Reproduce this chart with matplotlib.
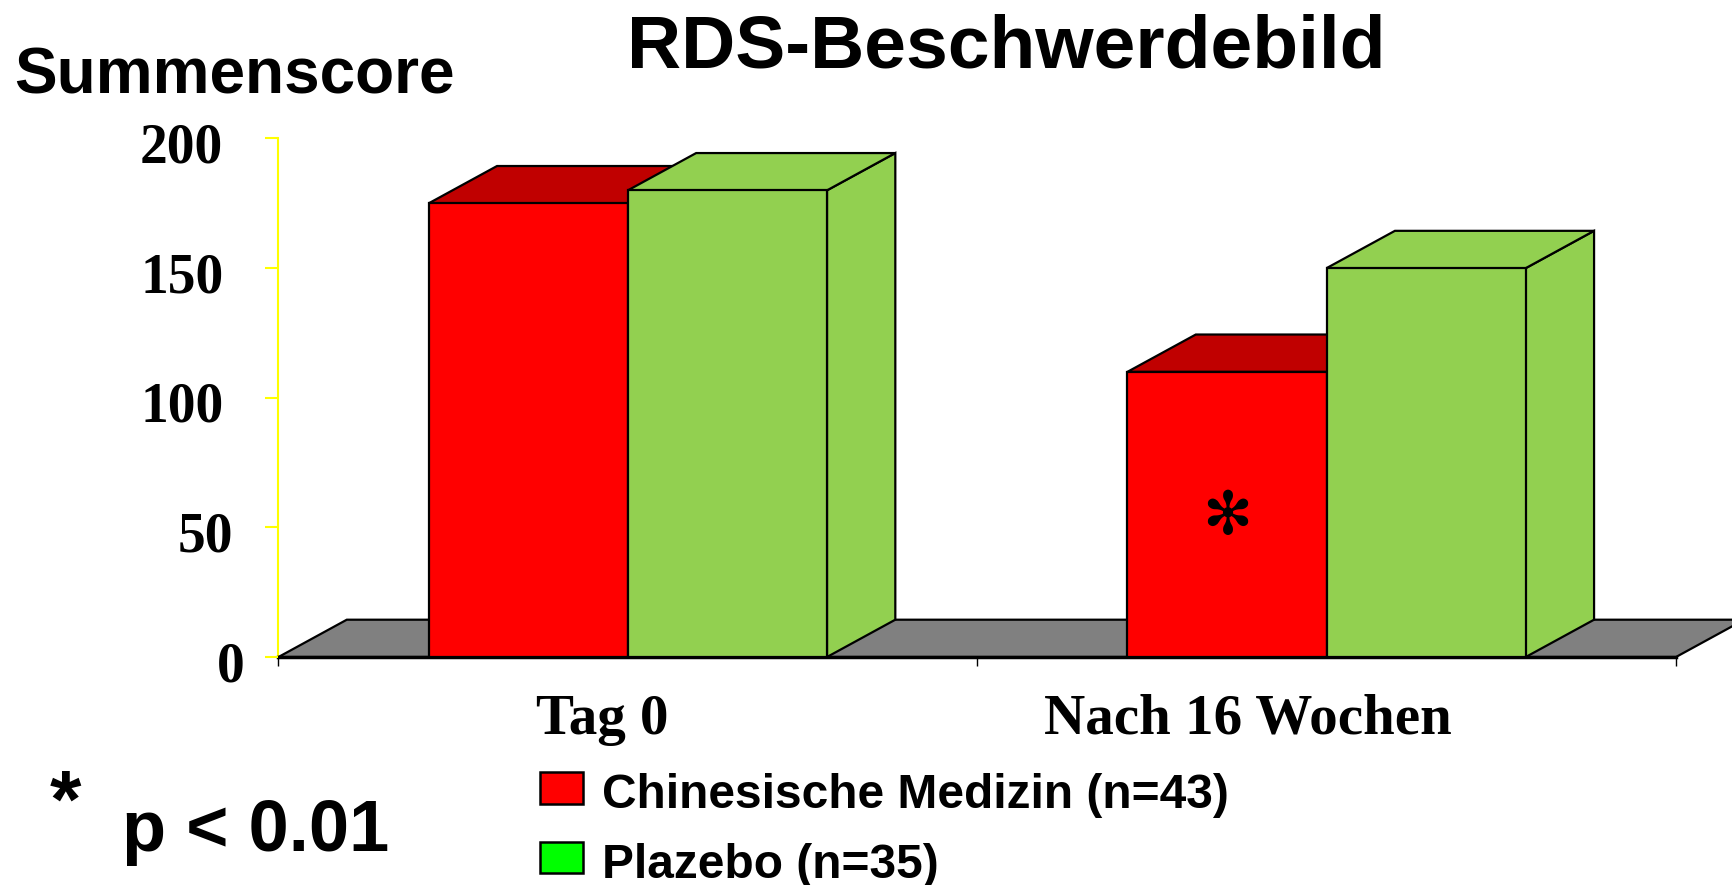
import matplotlib
matplotlib.use("Agg")
import matplotlib.pyplot as plt
from matplotlib.patches import Rectangle, Polygon
from matplotlib.transforms import ScaledTranslation

# ---------------- data ----------------
categories = ["Tag 0", "Nach 16 Wochen"]
series_names = ["Chinesische Medizin (n=43)", "Plazebo (n=35)"]
chinesische = [175, 110]
plazebo = [180, 150]
y_ticks = [0, 50, 100, 150, 200]
title = "RDS-Beschwerdebild"
y_title = "Summenscore"
sig_marker = "*"
sig_text = "p < 0.01"

# ---------------- style ----------------
W, H = 1733, 885
front_cols = ["#FF0000", "#92D050"]
top_cols = ["#C00000", "#92D050"]
side_cols = ["#A00000", "#92D050"]
legend_cols = ["#FF0000", "#00FF00"]
SANS = "Liberation Sans"
SERIF = "Liberation Serif"

fig = plt.figure(figsize=(W / 100, H / 100), dpi=100)
fig.patch.set_facecolor("white")

def fx(px):
    return px / W

def fy(py):
    return 1 - py / H

ax_l, ax_r, ax_t, ax_b = 278.5, 1676.0, 138.5, 657.0
ax = fig.add_axes([fx(ax_l), fy(ax_b), fx(ax_r - ax_l), (ax_b - ax_t) / H])
ax.set_xlim(0, len(categories))
ax.set_ylim(0, 200)
ax.set_facecolor("none")

# depth of 3D effect in data units
DX = 68.3 / ((ax_r - ax_l) / len(categories))
DY = 37.3 / ((ax_b - ax_t) / 200)

# floor
ncat = len(categories)
floor = Polygon([(0, 0), (ncat, 0), (ncat + DX, DY), (DX, DY)], closed=True,
                facecolor="#808080", edgecolor="black", lw=1.6, clip_on=False, zorder=1)
ax.add_patch(floor)

group_w = 0.57
bw = group_w / 2
values = [chinesische, plazebo]
z = 2
for i in range(ncat):
    for j, vals in enumerate(values):
        v = vals[i]
        x0 = i + 0.5 - group_w / 2 + j * bw
        front = Rectangle((x0, 0), bw, v, facecolor=front_cols[j], edgecolor="black",
                          lw=1.6, clip_on=False, zorder=z)
        top = Polygon([(x0, v), (x0 + bw, v), (x0 + bw + DX, v + DY), (x0 + DX, v + DY)],
                      closed=True, facecolor=top_cols[j], edgecolor="black", lw=1.6,
                      clip_on=False, zorder=z)
        side = Polygon([(x0 + bw, 0), (x0 + bw + DX, DY), (x0 + bw + DX, v + DY), (x0 + bw, v)],
                       closed=True, facecolor=side_cols[j], edgecolor="black", lw=1.6,
                       clip_on=False, zorder=z)
        ax.add_patch(side)
        ax.add_patch(top)
        ax.add_patch(front)
        z += 1

# significance marker on bar
ax.text(1 + 0.5 - group_w / 2 + bw / 2, 54, "\u273B", ha="center", va="center",
        fontsize=43, family="DejaVu Sans", color="black", zorder=20)

# spines / axes
for s in ["top", "right"]:
    ax.spines[s].set_visible(False)
ax.spines["left"].set_color("#FFFF00")
ax.spines["left"].set_linewidth(1.5)
ax.spines["left"].set_zorder(0.5)
ax.spines["bottom"].set_color("black")
ax.spines["bottom"].set_linewidth(2.5)
ax.spines["bottom"].set_zorder(1.5)

ax.set_yticks(y_ticks)
ax.set_yticklabels([str(t) for t in y_ticks])
ax.tick_params(axis="y", colors="#FFFF00", length=9.7, width=1.5, pad=30,
               labelcolor="black")
for lab in ax.get_yticklabels():
    lab.set_fontfamily(SERIF)
    lab.set_fontweight("bold")
    lab.set_fontsize(40)
shifts_px = {0: 21, 50: 10}
for t, lab in zip(y_ticks, ax.get_yticklabels()):
    dxp = shifts_px.get(t, 0)
    lab.set_transform(lab.get_transform() + ScaledTranslation(dxp / 100, -4 / 100, fig.dpi_scale_trans))

ax.set_xticks(range(ncat + 1))
ax.set_xticklabels([""] * (ncat + 1))
ax.tick_params(axis="x", colors="black", length=6.5, width=1.0)

# category labels
cat_offsets_px = [-26, -79]
for i, (c, off) in enumerate(zip(categories, cat_offsets_px)):
    ax.annotate(c, xy=(i + 0.5, 0), xycoords="data",
                xytext=(off * 0.72, -77 * 0.72), textcoords="offset points",
                ha="center", va="baseline", fontsize=41, fontweight="bold",
                family=SERIF, annotation_clip=False)

# titles
fig.text(fx(1006.5), fy(67.7), title, ha="center", va="baseline", fontsize=54,
         fontweight="bold", family=SANS)
fig.text(fx(14), fy(94), y_title, ha="left", va="baseline", fontsize=46,
         fontweight="bold", family=SANS)

# significance note
fig.text(fx(50), fy(827), sig_marker, ha="left", va="baseline", fontsize=58,
         fontweight="bold", family=SANS)
fig.text(fx(122), fy(850.7), sig_text, ha="left", va="baseline", fontsize=52,
         fontweight="bold", family=SANS)

# legend
sq_x0, sq_x1 = 540, 582.7
rows = [(771.7, 804.0, 807.7), (842.3, 873.3, 878.3)]
for name, col, (yt, yb, base) in zip(series_names, legend_cols, rows):
    fig.add_artist(Rectangle((fx(sq_x0), fy(yb)), fx(sq_x1 - sq_x0), (yb - yt) / H,
                             transform=fig.transFigure, facecolor=col,
                             edgecolor="black", lw=1.8))
    fig.text(fx(602), fy(base), name, ha="left", va="baseline", fontsize=34.5,
             fontweight="bold", family=SANS)

fig.savefig("out.png", dpi=100, facecolor="white")
